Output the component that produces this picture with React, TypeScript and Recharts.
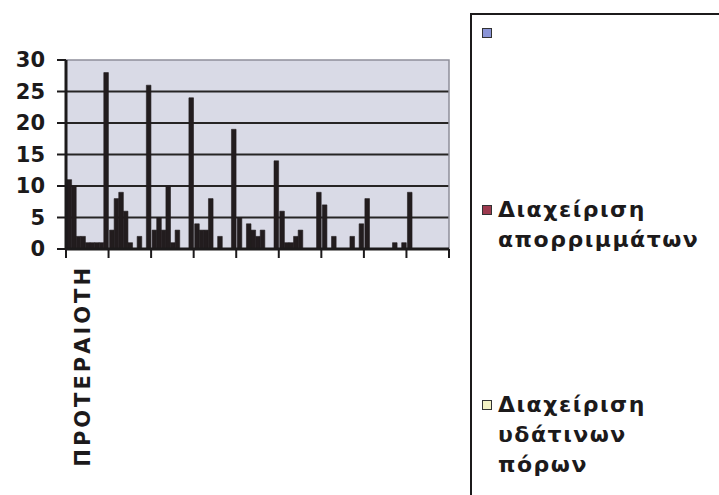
import React from "react";
import { BarChart, Bar, XAxis, YAxis, CartesianGrid, ReferenceArea } from "recharts";

const categories = ["ΠΡΟΤΕΡΑΙΟΤΗ", "", "", "", "", "", "", "", ""];
const series1 = [11, 3, 3, 4, 5, 6, 7, 8, 9];
const series2 = [10, 8, 5, 3, 0, 1, 0, 0, 0];
const series3 = [2, 9, 3, 3, 4, 1, 2, 0, 0];
const series4 = [2, 6, 10, 8, 3, 2, 0, 0, 0];
const series5 = [1, 1, 1, 0, 2, 3, 0, 0, 0];
const series6 = [1, 0, 3, 2, 3, 0, 0, 0, 0];
const series7 = [1, 2, 0, 0, 0, 0, 2, 1, 0];
const series8 = [1, 0, 0, 0, 0, 0, 0, 0, 0];
const series9 = [28, 26, 24, 19, 14, 9, 4, 1, 0];
const seriesList = [series1, series2, series3, series4, series5, series6, series7, series8, series9];
const yTicks = [0, 5, 10, 15, 20, 25, 30];
const gridValues = [5, 10, 15, 20, 25];
const legendNames = ["", "Διαχείριση απορριμμάτων", "Διαχείριση υδάτινων πόρων"];
const legendColors = ["#8a94d6", "#9c3a4e", "#f3f2c4"];

const data = categories.map((c, i) => {
  const row: any = { idx: i, cat: c };
  seriesList.forEach((s, k) => {
    row["s" + (k + 1)] = s[i];
  });
  return row;
});

const FONT = "'DejaVu Sans', Arial, sans-serif";
const DARK = "#1c1a1b";

const XTick = (props: any) => {
  const { x, y, payload, index } = props;
  const half = payload && payload.offset ? payload.offset : 21.3;
  const label = categories[payload.value] || "";
  const isLast = index === categories.length - 1;
  return (
    <g>
      <line x1={x - half} y1={y} x2={x - half} y2={y + 9} stroke={DARK} strokeWidth={2} />
      {isLast && <line x1={x + half} y1={y} x2={x + half} y2={y + 9} stroke={DARK} strokeWidth={2} />}
      {label && (
        <text
          x={x + 3}
          y={y + 16}
          textAnchor="end"
          transform={`rotate(-90, ${x + 3}, ${y + 16})`}
          fontFamily={FONT}
          fontWeight="bold"
          fontSize={21}
          letterSpacing={3}
          fill={DARK}
        >
          {label}
        </text>
      )}
    </g>
  );
};

const legendTextStyle: React.CSSProperties = {
  fontFamily: FONT,
  fontWeight: 700,
  fontSize: 22,
  letterSpacing: 1.5,
  lineHeight: "30px",
  color: DARK,
  whiteSpace: "nowrap",
};

const legendTops = [0, 180, 375];

export default function App() {
  return (
    <div style={{ position: "absolute", left: 0, top: 0, width: 719, height: 495, background: "#ffffff", overflow: "hidden" }}>
      <BarChart
        width={719}
        height={495}
        data={data}
        margin={{ top: 60, right: 270, bottom: 30, left: 16 }}
        barGap={0}
        barCategoryGap={0}
        barSize={4.6}
      >
        <CartesianGrid
          vertical={false}
          horizontalValues={gridValues}
          stroke="#262424"
          strokeWidth={2}
          fill="#d9dae6"
          fillOpacity={1}
        />
        <ReferenceArea y1={0} y2={30} fill="none" stroke="#8e8e9a" strokeWidth={1.5} />
        <XAxis
          dataKey="idx"
          type="category"
          interval={0}
          height={216}
          tickLine={false}
          tickSize={0}
          tickMargin={0}
          axisLine={{ stroke: DARK, strokeWidth: 3 }}
          tick={<XTick />}
        />
        <YAxis
          domain={[0, 30]}
          ticks={yTicks}
          interval={0}
          width={50}
          tickSize={9}
          tickMargin={12}
          axisLine={{ stroke: DARK, strokeWidth: 3 }}
          tickLine={{ stroke: DARK, strokeWidth: 2 }}
          tick={{ fontFamily: FONT, fontWeight: "bold", fontSize: 21, fill: DARK }}
        />
        {seriesList.map((_, k) => (
          <Bar
            key={k}
            dataKey={"s" + (k + 1)}
            name={legendNames[k] || "s" + (k + 1)}
            fill="#221c1e"
            stroke="#221c1e"
            strokeWidth={0.6}
            isAnimationActive={false}
          />
        ))}
      </BarChart>
      <div
        style={{
          position: "absolute",
          left: 470,
          top: 13,
          width: 300,
          height: 520,
          borderTop: `2px solid ${DARK}`,
          borderLeft: `2px solid ${DARK}`,
          background: "#ffffff",
        }}
      >
        {legendNames.map((name, i) => {
          const words = name.split(" ");
          const first = words[0];
          const rest = words.slice(1);
          return (
            <div key={i} style={{ position: "absolute", left: 10, top: legendTops[i] }}>
              <div
                style={{
                  position: "absolute",
                  left: 0,
                  top: i === 0 ? 13 : 10,
                  width: 10,
                  height: 10,
                  boxSizing: "border-box",
                  border: "1px solid #333",
                  background: legendColors[i],
                }}
              />
              {name && (
                <div style={{ position: "absolute", left: 16, top: 0, ...legendTextStyle }}>
                  <div>{first}</div>
                  {i === 1 && <div>{rest.join(" ")}</div>}
                  {i === 2 && rest.map((w, j) => <div key={j}>{w}</div>)}
                </div>
              )}
            </div>
          );
        })}
      </div>
    </div>
  );
}
